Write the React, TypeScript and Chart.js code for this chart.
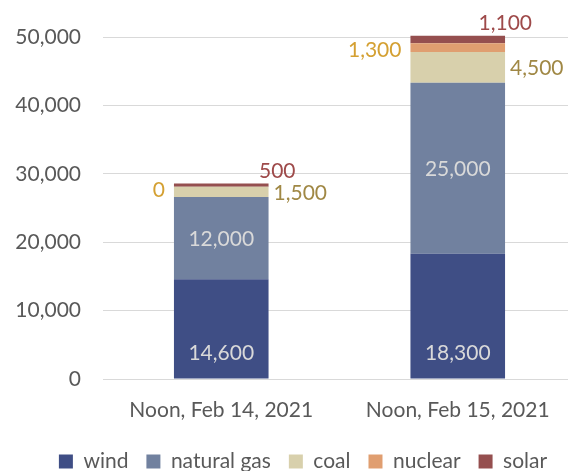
import React, { useEffect, useRef } from "react";
import { Chart, registerables } from "chart.js";

Chart.register(...registerables);

// Generation mix at noon (MW)
const categories = ["Noon, Feb 14, 2021", "Noon, Feb 15, 2021"];
const seriesNames = ["wind", "natural gas", "coal", "nuclear", "solar"];
const wind = [14600, 18300];
const naturalGas = [12000, 25000];
const coal = [1500, 4500];
const nuclear = [0, 1300];
const solar = [500, 1100];
const yTicks = [0, 10000, 20000, 30000, 40000, 50000];

const colors = ["#3f4e85", "#71819f", "#d8d0ac", "#e09e70", "#954f4f"];
const FONT = "Lato, 'Open Sans', sans-serif";
const SIZE = 21;
const fmt = (v: number) => v.toLocaleString("en-US");

// Value labels drawn next to / inside each stacked segment
const segmentLabels = {
  id: "segmentLabels",
  // let the y tick labels use the full left margin (labels are clipped to the scale box)
  afterLayout(chart: any) {
    chart.scales.y.left = 0;
  },
  afterDatasetsDraw(chart: any) {
    const { ctx } = chart;
    ctx.save();
    ctx.font = `${SIZE}px ${FONT}`;
    ctx.textBaseline = "middle";
    chart.data.datasets.forEach((ds: any, di: number) => {
      const meta = chart.getDatasetMeta(di);
      meta.data.forEach((bar: any, i: number) => {
        const v = ds.data[i] as number;
        const { x, y, base, width } = bar.getProps(["x", "y", "base", "width"], true);
        const left = x - width / 2;
        const right = x + width / 2;
        const mid = (y + base) / 2;
        const text = fmt(v);
        if (di === 0) {
          ctx.fillStyle = "#d9d9d9";
          ctx.textAlign = "center";
          ctx.fillText(text, x, base - 25);
        } else if (di === 1) {
          ctx.fillStyle = "#d9d9d9";
          ctx.textAlign = "center";
          ctx.fillText(text, x, mid + 1);
        } else if (di === 2) {
          ctx.fillStyle = "#a08845";
          ctx.textAlign = "left";
          ctx.fillText(text, right + 5, mid + 1);
        } else if (di === 3) {
          ctx.fillStyle = "#d4a032";
          ctx.textAlign = "right";
          ctx.fillText(text, left - 9, mid + 3);
        } else {
          ctx.fillStyle = "#9e4a4a";
          ctx.textAlign = "right";
          ctx.fillText(text, right + 27, y - 12);
        }
      });
    });
    ctx.restore();
  },
};

export default function App() {
  const ref = useRef<HTMLCanvasElement | null>(null);

  useEffect(() => {
    if (!ref.current) return;
    const series = [wind, naturalGas, coal, nuclear, solar];
    const chart = new Chart(ref.current, {
      type: "bar",
      data: {
        labels: categories,
        datasets: series.map((d, i) => ({
          label: seriesNames[i],
          data: d,
          backgroundColor: colors[i],
          borderWidth: 0,
          barPercentage: 0.4,
          categoryPercentage: 1,
          clip: false as any,
        })),
      },
      options: {
        animation: false,
        responsive: true,
        maintainAspectRatio: false,
        layout: { padding: { top: 37, right: 10, left: 30, bottom: -11 } },
        plugins: {
          tooltip: { enabled: false },
          legend: {
            position: "bottom",
            labels: {
              font: { family: FONT, size: SIZE },
              color: "#595959",
              boxWidth: 14,
              boxHeight: 14,
              padding: 18,
            },
          },
        },
        scales: {
          x: {
            stacked: true,
            grid: { display: false },
            border: { display: false },
            afterFit: (scale: any) => {
              scale.height = 54;
            },
            ticks: {
              font: { family: FONT, size: SIZE },
              color: "#595959",
              padding: 11,
            },
          },
          y: {
            stacked: true,
            min: 0,
            max: 50000,
            afterBuildTicks: (scale: any) => {
              scale.ticks = yTicks.map((v) => ({ value: v }));
            },
            afterFit: (scale: any) => {
              scale.width = 73;
            },
            grid: { color: "#d9d9d9", lineWidth: 1, drawTicks: false },
            border: { display: false },
            ticks: {
              font: { family: FONT, size: SIZE },
              color: "#595959",
              padding: 22,
              callback: (v: any) => fmt(Number(v)),
            },
          },
        },
      },
      plugins: [segmentLabels],
    });
    return () => chart.destroy();
  }, []);

  return (
    <div style={{ position: "fixed", left: 0, top: 0, width: 568, height: 471, overflow: "hidden", background: "#fff" }}>
      <div style={{ position: "relative", width: 586, height: 471 }}>
        <canvas ref={ref} />
      </div>
    </div>
  );
}
